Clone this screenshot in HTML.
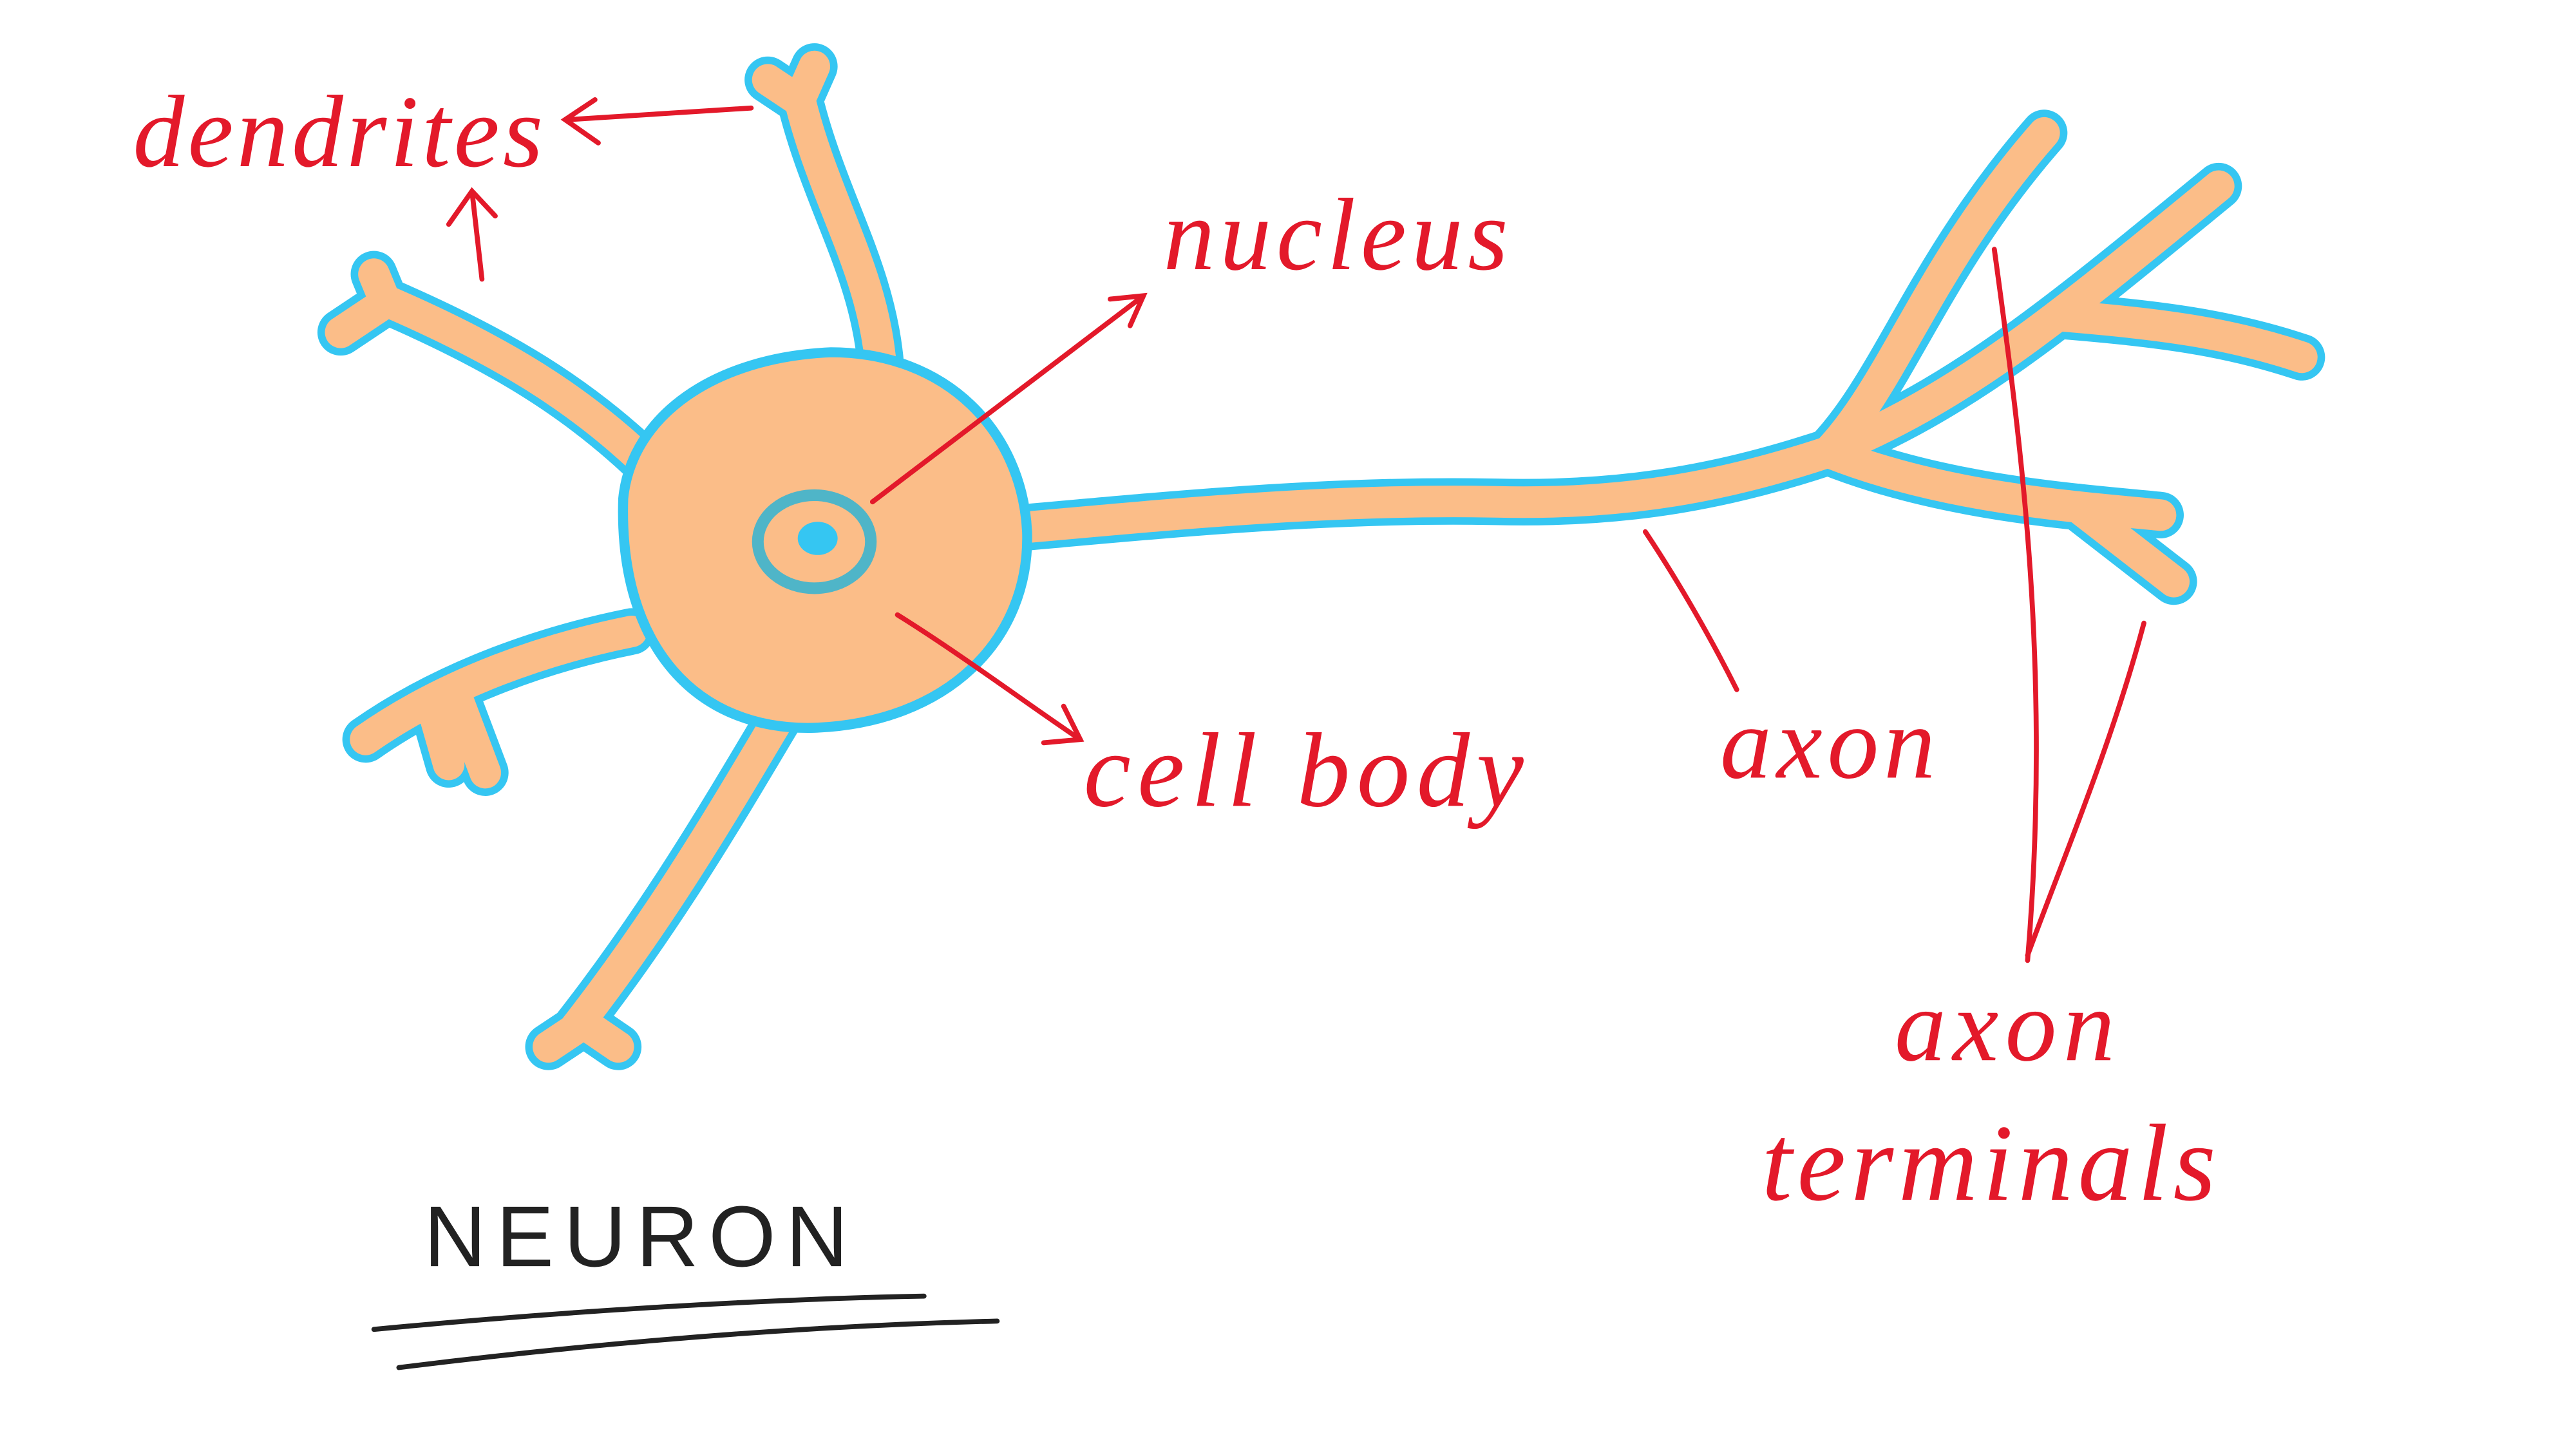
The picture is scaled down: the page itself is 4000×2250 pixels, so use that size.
<!DOCTYPE html>
<html><head><meta charset="utf-8"><style>
html,body{margin:0;padding:0;background:#fff;}
svg{display:block;}
.lbl{font-family:"Liberation Serif",serif;font-style:italic;fill:#e3192a;}
</style></head><body>
<svg width="4000" height="2250" viewBox="0 0 1550 872" preserveAspectRatio="none" xmlns="http://www.w3.org/2000/svg">
<rect width="1550" height="872" fill="#fff"/>
<g fill="none" stroke="#35c6f2" stroke-width="28" stroke-linecap="round" stroke-linejoin="round">
 <path d="M530,220 C525,160 495,120 480,55 M480,60 L462,48 M482,58 L490,40"/>
 <path d="M395,285 C350,240 300,210 230,180 M232,182 L205,200 M232,182 L225,165"/>
 <path d="M380,380 C330,390 270,410 220,445 M260,425 L270,460 M275,420 L292,465"/>
 <path d="M470,430 C440,480 400,550 345,620 M345,620 L330,630 M350,615 L372,630"/>
 <path d="M610,318 C700,310 800,300 900,302 C980,304 1040,292 1100,272 M1100,272 C1140,230 1160,160 1230,80 M1100,272 C1180,240 1240,190 1335,112 M1240,190 C1300,195 1340,200 1385,215 M1100,272 C1170,300 1250,305 1300,310 M1250,305 L1308,350"/>
</g>
<g fill="none" stroke="#fbbd88" stroke-width="19" stroke-linecap="round" stroke-linejoin="round">
 <path d="M530,220 C525,160 495,120 480,55 M480,60 L462,48 M482,58 L490,40"/>
 <path d="M395,285 C350,240 300,210 230,180 M232,182 L205,200 M232,182 L225,165"/>
 <path d="M380,380 C330,390 270,410 220,445 M260,425 L270,460 M275,420 L292,465"/>
 <path d="M470,430 C440,480 400,550 345,620 M345,620 L330,630 M350,615 L372,630"/>
 <path d="M610,318 C700,310 800,300 900,302 C980,304 1040,292 1100,272 M1100,272 C1140,230 1160,160 1230,80 M1100,272 C1180,240 1240,190 1335,112 M1240,190 C1300,195 1340,200 1385,215 M1100,272 C1170,300 1250,305 1300,310 M1250,305 L1308,350"/>
</g>
<path d="M375,300 C380,250 430,215 500,212 C570,212 615,260 618,320 C620,385 570,435 490,438 C420,440 372,390 375,300 Z" fill="#fbbd88" stroke="#35c6f2" stroke-width="6"/>
<ellipse cx="490" cy="326" rx="34" ry="28" fill="#fbbd88" stroke="#4fb5c8" stroke-width="7"/>
<ellipse cx="492" cy="324" rx="12" ry="10" fill="#35c6f2"/>
<g fill="none" stroke="#e3192a" stroke-width="3" stroke-linecap="round">
 <path d="M452,65 L342,72 M358,60 L340,72 L360,86"/>
 <path d="M290,168 L284,115 M270,135 L284,115 L298,130"/>
 <path d="M525,302 L688,178 M668,180 L688,178 L680,196"/>
 <path d="M540,370 C580,395 620,425 650,445 M628,447 L650,445 L640,425"/>
 <path d="M990,320 C1010,350 1030,385 1045,415"/>
 <path d="M1200,150 C1215,260 1235,400 1220,578"/>
 <path d="M1290,375 C1270,450 1240,520 1220,575"/>
</g>
<text class="lbl" x="80" y="100" font-size="62" letter-spacing="2">dendrites</text>
<text class="lbl" x="700" y="162" font-size="62" letter-spacing="3">nucleus</text>
<text class="lbl" x="652" y="485" font-size="64" letter-spacing="4">cell body</text>
<text class="lbl" x="1035" y="468" font-size="62" letter-spacing="3">axon</text>
<text class="lbl" x="1140" y="638" font-size="62" letter-spacing="4">axon</text>
<text class="lbl" x="1060" y="722" font-size="66" letter-spacing="3">terminals</text>
<text x="255" y="762" font-family="Liberation Sans, sans-serif" font-size="52" fill="#222" letter-spacing="6">NEURON</text>
<g stroke="#222" stroke-width="3" fill="none" stroke-linecap="round">
 <path d="M225,800 C330,790 450,782 556,780"/>
 <path d="M240,823 C360,808 480,798 600,795"/>
</g>
</svg>
</body></html>
